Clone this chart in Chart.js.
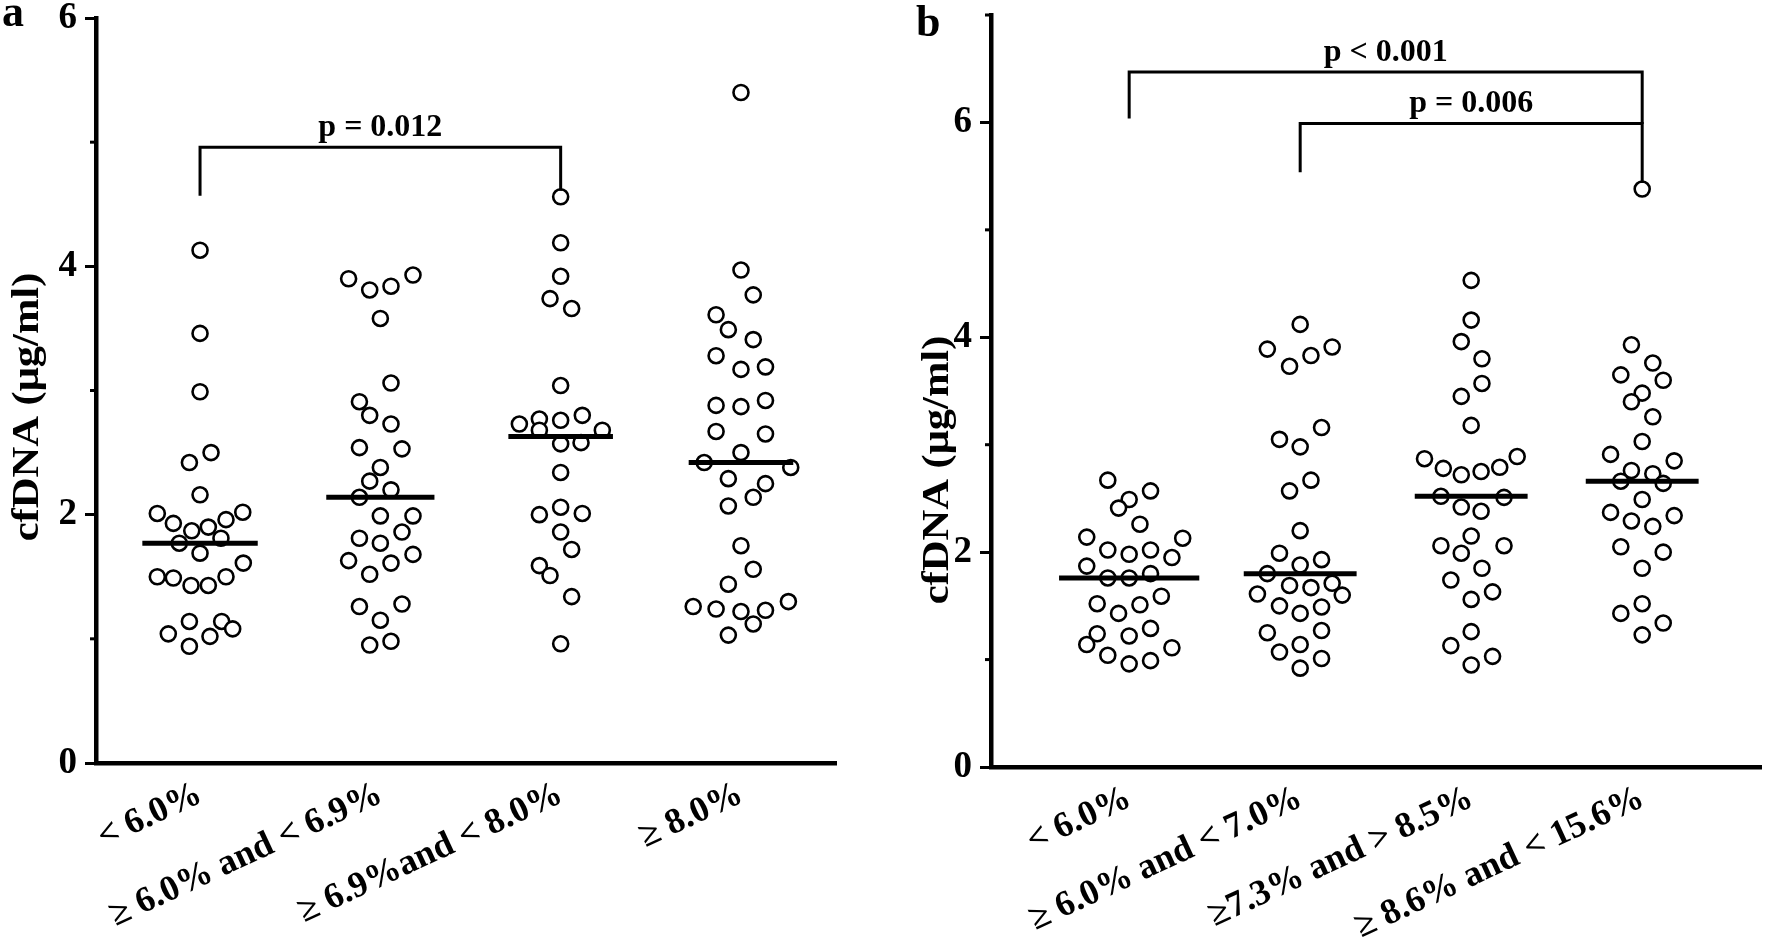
<!DOCTYPE html>
<html>
<head>
<meta charset="utf-8">
<script src="https://cdn.jsdelivr.net/npm/chart.js@4.4.1/dist/chart.umd.min.js"></script>
<style>
  html, body { margin: 0; padding: 0; background: #fff; }
  .panel { position: absolute; top: 0; width: 886px; height: 950px; }
  #panelA { left: 0; }
  #panelB { left: 886px; }
</style>
</head>
<body>
<div class="panel" id="panelA"><canvas id="chartA"></canvas></div>
<div class="panel" id="panelB"><canvas id="chartB"></canvas></div>
<script>
// categories (HbA1c groups)
const labelsA = ['< 6.0%', '≥ 6.0% and < 6.9%', '≥ 6.9%and < 8.0%', '≥ 8.0%'];
const labelsB = ['< 6.0%', '≥ 6.0% and < 7.0%', '≥7.3% and > 8.5%', '≥ 8.6% and < 15.6%'];

// panel a - cfDNA values (µg/ml) and horizontal scatter of each dot
const a1Vals = [4.13, 3.46, 2.99, 2.42, 2.50, 2.16, 2.01, 1.93, 1.87, 1.90, 1.96, 2.02, 1.77, 1.81, 1.69, 1.50, 1.49, 1.43, 1.43, 1.50, 1.61, 1.04, 1.14, 0.94, 1.02, 1.14, 1.08];
const a1Jit = [0, 0, 0, -0.059, 0.061, 0, -0.237, -0.148, -0.046, 0.046, 0.144, 0.237, -0.115, 0.116, 0, -0.237, -0.148, -0.050, 0.046, 0.144, 0.240, -0.176, -0.059, -0.059, 0.055, 0.120, 0.181];
const a2Vals = [3.90, 3.81, 3.84, 3.93, 3.58, 3.06, 2.91, 2.80, 2.73, 2.54, 2.53, 2.38, 2.27, 2.20, 2.14, 1.99, 1.99, 1.86, 1.81, 1.77, 1.63, 1.61, 1.68, 1.52, 1.26, 1.28, 1.15, 0.95, 0.98];
const a2Jit = [-0.176, -0.059, 0.059, 0.181, 0, 0.059, -0.116, -0.059, 0.059, -0.116, 0.120, 0, -0.059, 0.059, -0.116, 0, 0.181, 0.120, -0.116, 0, -0.176, 0.059, 0.181, -0.059, -0.116, 0.120, 0, -0.059, 0.059];
const a3Vals = [4.56, 4.19, 3.92, 3.74, 3.66, 3.04, 2.73, 2.77, 2.76, 2.80, 2.68, 2.68, 2.57, 2.58, 2.34, 2.00, 2.06, 2.01, 1.86, 1.72, 1.59, 1.51, 1.34, 0.96];
const a3Jit = [0, 0, 0, -0.059, 0.061, 0, -0.229, -0.118, 0, 0.120, -0.118, 0.231, 0, 0.113, 0, -0.118, 0, 0.120, 0, 0.061, -0.118, -0.059, 0.061, 0];
const a4Vals = [5.40, 3.97, 3.77, 3.61, 3.49, 3.41, 3.28, 3.17, 3.19, 2.88, 2.87, 2.92, 2.67, 2.65, 2.50, 2.42, 2.38, 2.29, 2.25, 2.14, 2.07, 1.75, 1.56, 1.44, 1.26, 1.24, 1.22, 1.23, 1.30, 1.12, 1.03];
const a4Jit = [0, 0, 0.068, -0.138, -0.070, 0.068, -0.138, 0, 0.136, -0.138, 0, 0.136, -0.138, 0.136, 0, -0.204, 0.276, -0.070, 0.136, 0.068, -0.070, 0, 0.068, -0.070, -0.265, -0.138, 0, 0.136, 0.263, 0.068, -0.070];
const mediansA = [1.77, 2.14, 2.63, 2.42];

// panel b
const b1Vals = [2.67, 2.49, 2.41, 2.57, 2.26, 2.14, 2.13, 2.02, 1.98, 2.02, 1.95, 1.87, 1.76, 1.76, 1.80, 1.59, 1.52, 1.43, 1.51, 1.24, 1.14, 1.22, 1.29, 1.11, 1.04, 0.96, 0.99];
const b1Jit = [-0.125, 0, -0.062, 0.125, 0.063, -0.248, 0.313, -0.125, 0, 0.125, 0.25, -0.248, -0.125, 0, 0.125, 0.188, -0.187, -0.062, 0.063, -0.187, -0.248, 0, 0.125, 0.25, -0.125, 0, 0.125];
const b2Vals = [4.12, 3.89, 3.73, 3.83, 3.91, 3.16, 3.05, 2.98, 2.67, 2.57, 2.20, 1.99, 1.88, 1.93, 1.80, 1.69, 1.67, 1.71, 1.60, 1.61, 1.50, 1.43, 1.49, 1.25, 1.27, 1.14, 1.07, 1.01, 0.92];
const b2Jit = [0, -0.192, -0.062, 0.063, 0.187, 0.125, -0.121, 0, 0.063, -0.062, 0, -0.121, 0, 0.125, -0.192, -0.062, 0.063, 0.187, 0.246, -0.25, -0.121, 0, 0.125, -0.192, 0.125, 0, -0.121, 0.125, 0];
const b3Vals = [4.53, 4.16, 3.96, 3.80, 3.57, 3.45, 3.18, 2.87, 2.78, 2.72, 2.75, 2.79, 2.89, 2.52, 2.51, 2.42, 2.38, 2.15, 2.06, 1.99, 2.06, 1.85, 1.74, 1.56, 1.63, 1.26, 1.13, 0.95, 1.03];
const b3Jit = [0, 0, -0.058, 0.063, 0.063, -0.058, 0, -0.273, -0.163, -0.058, 0.058, 0.167, 0.269, -0.177, 0.192, -0.058, 0.058, 0, -0.177, -0.058, 0.192, 0.063, -0.119, 0, 0.125, 0, -0.119, 0, 0.125];
const b4Vals = [5.38, 3.93, 3.76, 3.65, 3.60, 3.48, 3.40, 3.26, 3.03, 2.91, 2.85, 2.76, 2.73, 2.66, 2.64, 2.49, 2.37, 2.34, 2.29, 2.24, 2.05, 2.00, 1.85, 1.52, 1.43, 1.34, 1.23];
const b4Jit = [0, -0.063, 0.062, -0.125, 0.123, 0, -0.063, 0.062, 0, -0.185, 0.187, -0.063, 0.062, -0.125, 0.123, 0, -0.185, 0.187, -0.063, 0.062, -0.125, 0.123, 0, 0, -0.125, 0.123, 0];
const mediansB = [1.76, 1.80, 2.52, 2.66];

// significance brackets: [from group, to group, left foot, top, right foot]
const bracketsA = [[0, 2, 4.58, 4.96, 4.62]];
const bracketsB = [[0, 3, 6.05, 6.47, 6.0], [1, 3, 5.55, 5.99, 5.45]];
const pTextA = [{ text: 'p = 0.012', x: 1, y: 5.12 }];
const pTextB = [{ text: 'p < 0.001', x: 1.5, y: 6.65 }, { text: 'p = 0.006', x: 2, y: 6.17 }];

const FONT = "'Liberation Serif', 'Times New Roman', serif";

function dots(vals, jit, i) {
    return {
        data: vals.map((v, k) => ({ x: i + jit[k], y: v })),
        pointStyle: 'circle',
        pointRadius: 7.5,
        borderWidth: 2.6,
        borderColor: '#000',
        backgroundColor: '#fff',
        order: 2
    };
}

function medianLine(m, i, hw) {
    return {
        data: [{ x: i - hw, y: m }, { x: i + hw, y: m }],
        showLine: true, borderColor: '#000', borderWidth: 5, pointRadius: 0, order: 0
    };
}

function bracket(b) {
    return {
        data: [{ x: b[0], y: b[2] }, { x: b[0], y: b[3] }, { x: b[1], y: b[3] }, { x: b[1], y: b[4] }],
        showLine: true, borderColor: '#000', borderWidth: 3, pointRadius: 0, order: 0,
        borderCapStyle: 'square', clip: false
    };
}

// text, minor ticks and y title
const overlay = {
    id: 'overlay',
    afterDraw(chart, args, o) {
        const { ctx } = chart;
        const x = chart.scales.x, y = chart.scales.y;
        ctx.save();
        ctx.fillStyle = '#000';
        ctx.strokeStyle = '#000';
        ctx.lineWidth = 3;
        for (let v = 1; v <= y.max; v += 2) {
            const py = y.getPixelForValue(v);
            ctx.beginPath();
            ctx.moveTo(y.right - 6, py);
            ctx.lineTo(y.right, py);
            ctx.stroke();
        }
        ctx.font = 'bold 32px ' + FONT;
        ctx.textAlign = 'center';
        ctx.textBaseline = 'middle';
        o.notes.forEach(n => ctx.fillText(n.text, x.getPixelForValue(n.x), y.getPixelForValue(n.y)));

        ctx.font = 'bold 44px ' + FONT;
        ctx.textAlign = 'left';
        ctx.textBaseline = 'alphabetic';
        ctx.fillText(o.letter, o.letterX, o.letterY);

        ctx.translate(o.titleX, o.titleY);
        ctx.rotate(-Math.PI / 2);
        ctx.scale(1.15, 1);
        ctx.font = 'bold 37px ' + FONT;
        ctx.textAlign = 'center';
        ctx.textBaseline = 'middle';
        ctx.fillText('cfDNA (μg/ml)', 0, 0);
        ctx.restore();
    }
};

function makeChart(id, labels, groups, medians, halfW, brackets, notes, opt) {
    const datasets = [];
    groups.forEach((g, i) => datasets.push(dots(g[0], g[1], i)));
    medians.forEach((m, i) => datasets.push(medianLine(m, i, halfW[i])));
    brackets.forEach(b => datasets.push(bracket(b)));

    return new Chart(document.getElementById(id), {
        type: 'scatter',
        data: { datasets },
        plugins: [overlay],
        options: {
            responsive: true,
            maintainAspectRatio: false,
            animation: false,
            layout: { padding: { top: opt.top, right: opt.right, left: 0, bottom: 0 } },
            plugins: {
                legend: { display: false },
                tooltip: { enabled: false },
                overlay: { notes, letter: opt.letter, letterX: opt.letterX, letterY: opt.letterY, titleX: opt.titleX, titleY: opt.titleY }
            },
            scales: {
                x: {
                    type: 'linear',
                    min: opt.xmin,
                    max: opt.xmax,
                    afterBuildTicks: s => { s.ticks = labels.map((_, i) => ({ value: i })); },
                    afterFit: s => { s.height = opt.xh; s.paddingLeft = 0; s.paddingRight = 0; },
                    ticks: {
                        callback: v => labels[v],
                        autoSkip: false,
                        minRotation: 25,
                        maxRotation: 25,
                        padding: 10,
                        color: '#000',
                        font: { family: FONT, size: 36, weight: 'bold' }
                    },
                    grid: { display: false, drawTicks: false },
                    border: { display: true, color: '#000', width: 4.5 }
                },
                y: {
                    min: 0,
                    max: opt.ymax,
                    afterFit: s => { s.width = opt.yw; s.paddingTop = 0; s.paddingBottom = 0; },
                    ticks: {
                        stepSize: 1,
                        callback: v => (v % 2 === 0 ? v : ''),
                        padding: 8,
                        color: '#000',
                        font: { family: FONT, size: 37, weight: 'bold' }
                    },
                    grid: {
                        drawOnChartArea: false,
                        tickLength: 11,
                        tickWidth: 3,
                        tickColor: c => (c.tick && c.tick.value % 2 === 0 ? '#000' : 'rgba(0,0,0,0)')
                    },
                    border: { display: true, color: '#000', width: 4.5 }
                }
            }
        }
    });
}

makeChart('chartA', labelsA,
    [[a1Vals, a1Jit], [a2Vals, a2Jit], [a3Vals, a3Jit], [a4Vals, a4Jit]],
    mediansA, [0.32, 0.30, 0.29, 0.29], bracketsA, pTextA,
    { top: 18, right: 50, xh: 187, yw: 96, ymax: 6, xmin: -0.577, xmax: 3.527,
      letter: 'a', letterX: 2, letterY: 26, titleX: 28, titleY: 407 });

makeChart('chartB', labelsB,
    [[b1Vals, b1Jit], [b2Vals, b2Jit], [b3Vals, b3Jit], [b4Vals, b4Jit]],
    mediansB, [0.41, 0.33, 0.33, 0.33], bracketsB, pTextB,
    { top: 15, right: 0, xh: 183, yw: 105, ymax: 7, xmin: -0.808, xmax: 3.70,
      letter: 'b', letterX: 30, letterY: 36, titleX: 52, titleY: 470 });
</script>
</body>
</html>
